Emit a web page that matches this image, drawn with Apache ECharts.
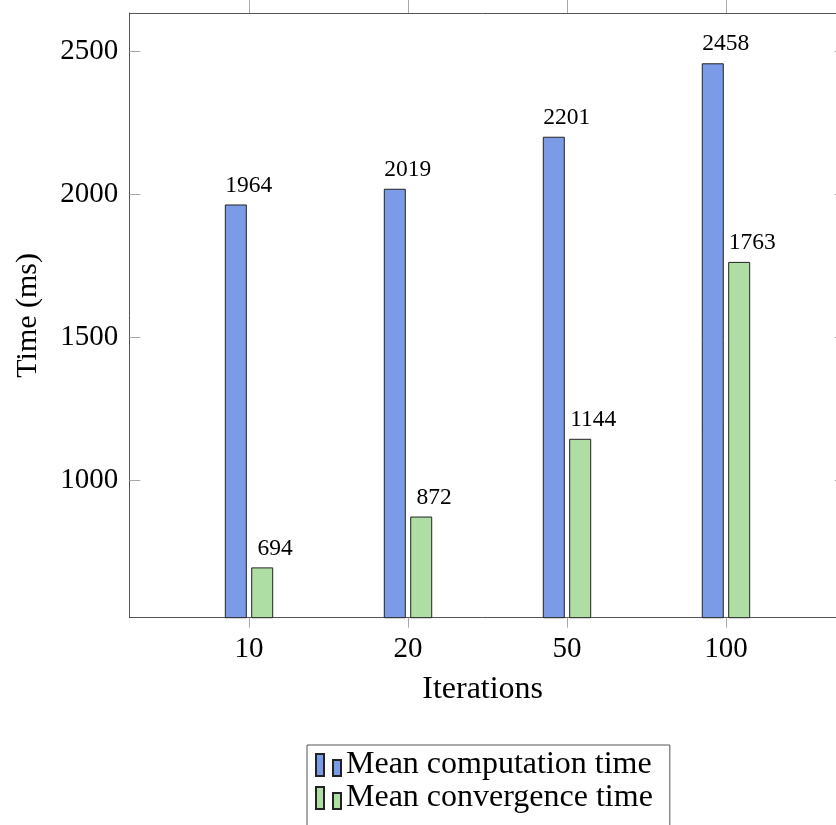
<!DOCTYPE html>
<html>
<head>
<meta charset="utf-8">
<script src="https://cdn.jsdelivr.net/npm/echarts@6/dist/echarts.min.js"></script>
<style>
html,body{margin:0;padding:0;background:#fff;}
#chart{width:836px;height:825px;}
</style>
</head>
<body>
<div id="chart"></div>
<script>
const categories = ['10', '20', '50', '100'];
const computationTime = [1964, 2019, 2201, 2458];
const convergenceTime = [694, 872, 1144, 1763];
const yTicks = [1000, 1500, 2000, 2500];
const seriesNames = ['Mean computation time', 'Mean convergence time'];

const FONT = "'Liberation Serif', 'DejaVu Serif', serif";
const catIdx = categories.map((c, i) => i);
// plot spans 129.3..845.7 px in the original; canvas ends at 836
const xMin = -0.753, xMax = 3.692;
const yMin = 518, yMax = 2634;
const axisColor = '#555';
const tickColor = '#a8a8a8';

const chart = echarts.init(document.getElementById('chart'));

function barSeries(name, values, color) {
  return {
    name: name,
    type: 'bar',
    xAxisIndex: 0,
    yAxisIndex: 0,
    data: values.map((v, i) => [i, v]),
    barWidth: 22,
    barGap: '20%',
    clip: true,
    itemStyle: { color: color, borderColor: '#222', borderWidth: 1 },
    label: {
      show: true,
      position: 'top',
      distance: 7,
      offset: [13, 0],
      formatter: p => String(p.value[1]),
      fontSize: 23.5,
      fontFamily: FONT,
      color: '#000'
    }
  };
}

chart.setOption({
  animation: false,
  backgroundColor: '#fff',
  grid: { left: 129.3, top: 13, right: 0, bottom: 207.3, containLabel: false },
  legend: {
    data: seriesNames,
    orient: 'vertical',
    left: 307,
    top: 745,
    height: 120,
    itemWidth: 25,
    itemHeight: 22,
    itemGap: 0,
    padding: [3.5, 17, 30, 8],
    borderColor: axisColor,
    borderWidth: 1,
    icon: 'path://M0,0H8V22H0Z M17,6H25V22H17Z',
    textStyle: { fontSize: 32, fontFamily: FONT, color: '#000', lineHeight: 33 }
  },
  xAxis: [
    {
      type: 'value',
      position: 'bottom',
      min: xMin,
      max: xMax,
      name: 'Iterations',
      nameLocation: 'middle',
      nameGap: 56,
      nameTextStyle: { fontSize: 32, fontFamily: FONT, color: '#000' },
      axisLine: { show: true, onZero: false, lineStyle: { color: axisColor, width: 1 } },
      axisTick: { show: true, inside: false, length: 10, customValues: catIdx, lineStyle: { color: tickColor } },
      axisLabel: {
        show: true,
        customValues: catIdx,
        formatter: v => categories[Math.round(v)],
        margin: 17,
        fontSize: 29,
        fontFamily: FONT,
        color: '#000'
      },
      splitLine: { show: false }
    },
    {
      type: 'value',
      position: 'top',
      min: xMin,
      max: xMax,
      axisLine: { show: true, onZero: false, lineStyle: { color: axisColor, width: 1 } },
      axisTick: { show: true, inside: false, length: 13, customValues: catIdx, lineStyle: { color: tickColor } },
      axisLabel: { show: false },
      splitLine: { show: false }
    }
  ],
  yAxis: [
    {
      type: 'value',
      position: 'left',
      min: yMin,
      max: yMax,
      name: 'Time (ms)',
      nameLocation: 'middle',
      nameGap: 86,
      nameTextStyle: { fontSize: 30, fontFamily: FONT, color: '#000' },
      axisLine: { show: true, onZero: false, lineStyle: { color: axisColor, width: 1 } },
      axisTick: { show: true, inside: true, length: 11, customValues: yTicks, lineStyle: { color: tickColor } },
      axisLabel: {
        show: true,
        customValues: yTicks,
        formatter: v => String(v),
        margin: 11,
        fontSize: 29,
        fontFamily: FONT,
        color: '#000'
      },
      splitLine: { show: false }
    },
    {
      type: 'value',
      position: 'right',
      offset: 9.7,
      min: yMin,
      max: yMax,
      axisLine: { show: true, onZero: false, lineStyle: { color: axisColor, width: 1 } },
      axisTick: { show: true, inside: true, length: 11, customValues: yTicks, lineStyle: { color: tickColor } },
      axisLabel: { show: false },
      splitLine: { show: false }
    }
  ],
  series: [
    barSeries(seriesNames[0], computationTime, '#7b9be6'),
    barSeries(seriesNames[1], convergenceTime, '#aedea3')
  ]
});
</script>
</body>
</html>
